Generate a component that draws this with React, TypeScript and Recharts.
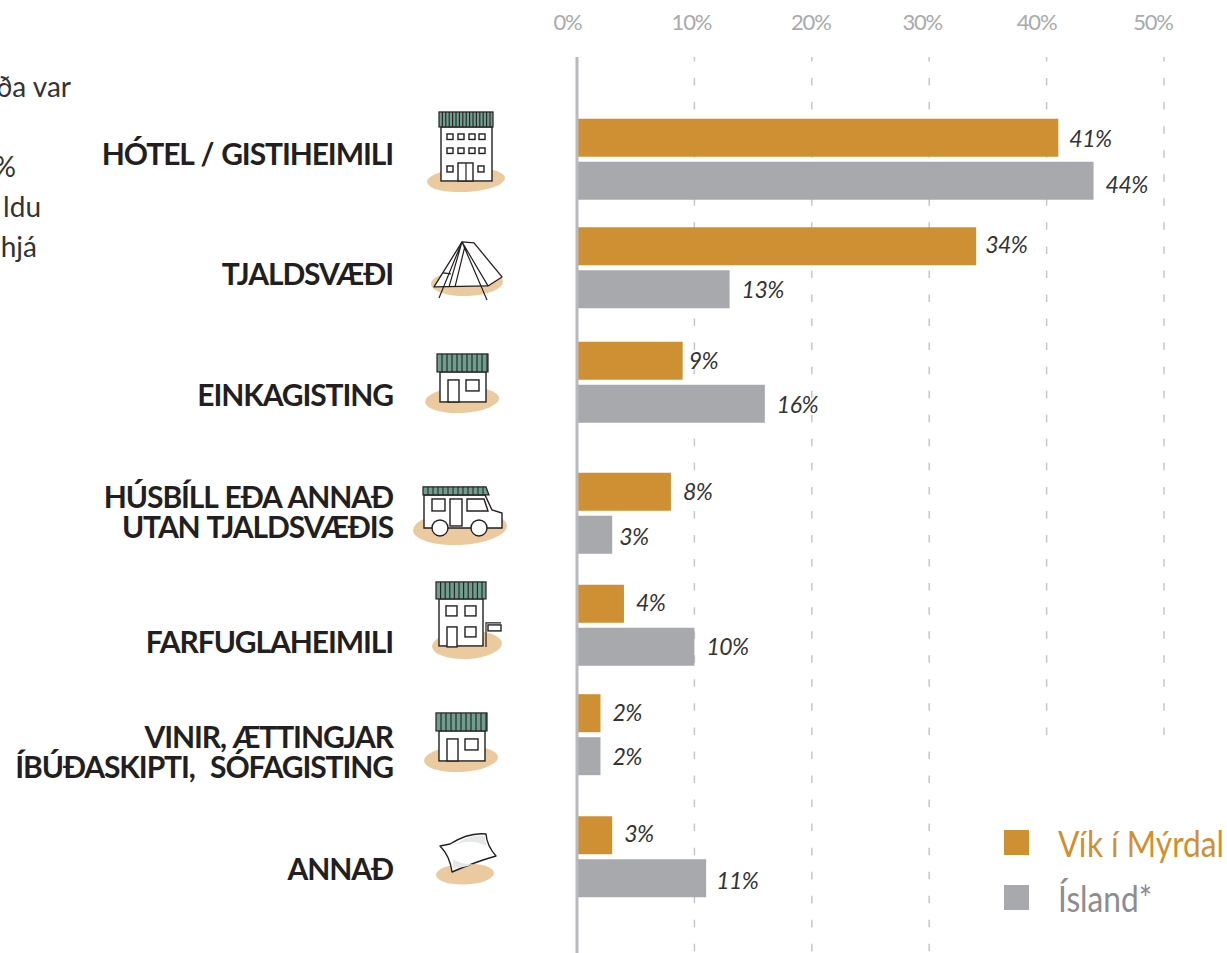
import { BarChart, Bar, XAxis, YAxis, LabelList, Legend, ReferenceLine } from 'recharts'

const categories = [
  ['HÓTEL / GISTIHEIMILI'],
  ['TJALDSVÆÐI'],
  ['EINKAGISTING'],
  ['HÚSBÍLL EÐA ANNAÐ', 'UTAN TJALDSVÆÐIS'],
  ['FARFUGLAHEIMILI'],
  ['VINIR, ÆTTINGJAR', 'ÍBÚÐASKIPTI,  SÓFAGISTING'],
  ['ANNAÐ'],
]
const vikValues = [41, 34, 9, 8, 4, 2, 3]
const islandValues = [44, 13, 16, 3, 10, 2, 11]
const xTicks = [0, 10, 20, 30, 40, 50]
const longGridTicks = [10, 20, 30]
const shortGridTicks = [40, 50]

// the rows are not evenly spaced in the original, unit = one average row
const rowSlots = [0, 0.933, 1.918, 3.045, 4.008, 4.95, 6]
const labelShift = [-5, 6.5, 13, -1, 17, 17.5, 12.5]
const iconShift = [21, 15.5, 18, 15, 20, 24.5, 17.5]
const xTickShift = [-9.5, -3, -1, -7, -10, -11]

// hand placed value labels in the original
const vikLabelDx = [-1, -3, -6, 0, 0, 0, 0]
const vikLabelDy = [0, -2, -1, -1, -2, -1, -2]
const islandLabelDx = [0, 0, 0, -5, 0, 0, -2]
const islandLabelDy = [3, 0, 0, 1, -1, 0, 2]

const ORANGE = '#cf9033'
const GREY = '#a8a9ad'
const GRID = '#c6c7c9'
const SAND = '#ecca9f'
const ROOF = '#6f9e8e'
const INK = '#231f20'
const BODY = 'Lato, "Open Sans", sans-serif'

const chartData = categories.map((c, i) => ({
  name: c.join(' '),
  slot: rowSlots[i],
  vik: vikValues[i],
  island: islandValues[i],
}))

function Roof({ x, y, w, h, step }: { x: number; y: number; w: number; h: number; step: number }) {
  const lines = []
  for (let lx = x + step; lx < x + w; lx += step) lines.push(lx)
  return (
    <g>
      <rect x={x} y={y} width={w} height={h} fill={ROOF} stroke={INK} strokeWidth={1.2} />
      {lines.map((lx) => (
        <line key={lx} x1={lx} x2={lx} y1={y} y2={y + h} stroke={INK} strokeWidth={1.1} />
      ))}
    </g>
  )
}

const boxStyle = { fill: '#fff', stroke: INK, strokeWidth: 1.4 }

function Hotel() {
  return (
    <g>
      <ellipse cx={0} cy={0} rx={39} ry={12} fill={SAND} transform="rotate(-3)" />
      <rect x={-25} y={-53} width={51} height={54} {...boxStyle} />
      <Roof x={-27} y={-68} w={54} h={15} step={3.4} />
      {[-19, -8, 3, 13].map((wx) =>
        [-46, -32].map((wy) => (
          <rect key={wx + '-' + wy} x={wx} y={wy} width={6} height={5.5} {...boxStyle} />
        )),
      )}
      <rect x={-19} y={-14} width={6} height={6} {...boxStyle} />
      <rect x={12} y={-14} width={6} height={6} {...boxStyle} />
      <rect x={-8} y={-17} width={15} height={18} {...boxStyle} />
      <line x1={0} x2={0} y1={-17} y2={1} stroke={INK} strokeWidth={1.2} />
    </g>
  )
}

function Tent() {
  return (
    <g>
      <ellipse cx={0} cy={0} rx={36} ry={13} fill={SAND} transform="rotate(-2)" />
      <path d="M-5,-41 L7,-40 L35,-6 L21,3 L-33,4 Z" fill="#fff" stroke={INK} strokeWidth={1.3} strokeLinejoin="round" />
      <path d="M-5,-41 L-28,15 M-5,-41 L20,17 M-5,-41 L21,3 M-5,-41 L-18,4 M-2,-37 L-12,4 M-24,-10 L-16,-9" fill="none" stroke={INK} strokeWidth={1.2} />
    </g>
  )
}

function SmallHouse() {
  return (
    <g>
      <ellipse cx={0} cy={0} rx={37} ry={13} fill={SAND} transform="rotate(-3)" />
      <rect x={-22} y={-28} width={46} height={30} {...boxStyle} />
      <Roof x={-25} y={-46} w={51} h={18} step={5} />
      <rect x={-14} y={-20} width={11} height={22} {...boxStyle} />
      <rect x={4} y={-20} width={13} height={11} {...boxStyle} />
    </g>
  )
}

function Camper() {
  return (
    <g>
      <ellipse cx={0} cy={0} rx={47} ry={17} fill={SAND} transform="rotate(-3)" />
      <path d="M-36,-33 L25,-33 L32,-18 L42,-15 L42,0 L-36,0 Z" {...boxStyle} />
      <path d="M-37,-41 L26,-41 L29,-33 L-37,-33 Z" fill={ROOF} stroke={INK} strokeWidth={1.2} />
      {[-32, -27, -22, -17, -12, -7, -2, 3, 8, 13, 18, 23].map((lx) => (
        <line key={lx} x1={lx} x2={lx} y1={-41} y2={-33} stroke={INK} strokeWidth={1} />
      ))}
      <rect x={-28} y={-29} width={13} height={12} {...boxStyle} />
      <rect x={-10} y={-29} width={12} height={27} {...boxStyle} />
      <path d="M7,-29 L24,-29 L28,-17 L7,-17 Z" {...boxStyle} />
      <circle cx={-20} cy={0} r={8} {...boxStyle} />
      <circle cx={19} cy={0} r={8} {...boxStyle} />
    </g>
  )
}

function Hostel() {
  return (
    <g>
      <ellipse cx={0} cy={0} rx={35} ry={14} fill={SAND} transform="rotate(-3)" />
      <rect x={-28} y={-46} width={44} height={47} {...boxStyle} />
      <Roof x={-31} y={-63} w={50} h={17} step={4.6} />
      <rect x={-21} y={-39} width={11} height={10} {...boxStyle} />
      <rect x={-2} y={-39} width={11} height={10} {...boxStyle} />
      <rect x={-20} y={-18} width={10} height={20} {...boxStyle} />
      <rect x={-2} y={-18} width={11} height={10} {...boxStyle} />
      <path d="M19,2 L19,-22 L34,-22" fill="none" stroke={INK} strokeWidth={1.2} />
      <rect x={21} y={-20} width={13} height={6} {...boxStyle} />
    </g>
  )
}

function Pillow() {
  return (
    <g>
      <ellipse cx={0} cy={0} rx={29} ry={10.5} fill={SAND} transform="rotate(-2)" />
      <path d="M-25,-28 L-15,-30 Q4,-42 21,-40 Q22,-28 31,-18 Q10,-12 -13,-2 Q-15,-18 -25,-28 Z" fill="#fff" stroke={INK} strokeWidth={1.4} strokeLinejoin="round" />
      <path d="M-11,-29 Q4,-40 20,-38 L21,-28 Q6,-36 -11,-29 Z M-12,-6 Q-2,-6 9,-10 Q-4,-9 -12,-15 Z" fill="#e6e7e8" />
    </g>
  )
}

const icons = [Hotel, Tent, SmallHouse, Camper, Hostel, SmallHouse, Pillow]
const iconX = [466, 467, 462, 460, 467, 461, 465]

function RowTick({ y, payload }: any) {
  const i = rowSlots.indexOf(payload.value)
  if (i < 0) return null
  const lines = categories[i]
  const Icon = icons[i]
  const textY = y + labelShift[i]
  return (
    <g>
      <g transform={`translate(${iconX[i]},${y + iconShift[i]})`}>
        <Icon />
      </g>
      <text
        x={393}
        y={textY}
        textAnchor="end"
        fontFamily={BODY}
        fontWeight={700}
        fontSize={30}
        letterSpacing={-1.1}
        wordSpacing={1.5}
        fill={INK}
        xmlSpace="preserve"
      >
        {lines.map((line, n) => (
          <tspan key={n} x={393} dy={n === 0 ? (lines.length === 1 ? 11 : -4) : 30.5}>
            {line}
          </tspan>
        ))}
      </text>
    </g>
  )
}

function PercentTick({ x, y, payload, index }: any) {
  return (
    <text
      x={x + xTickShift[index]}
      y={y}
      textAnchor="middle"
      fontFamily={BODY}
      fontSize={22}
      letterSpacing={-1.2}
      fill="#a9aaac"
    >
      {payload.value}%
    </text>
  )
}

function ValueLabel({ x, y, width, height, value, index, dxs, dys }: any) {
  return (
    <text
      x={x + width + 12 + dxs[index]}
      y={y + height / 2 + dys[index]}
      dominantBaseline="central"
      fontFamily={BODY}
      fontStyle="italic"
      fontSize={23}
      letterSpacing={-0.5}
      fill="#333"
    >
      {value}%
    </text>
  )
}

function KeyBox({ payload }: any) {
  return (
    <div>
      {(payload || []).map((entry: any) => (
        <div key={entry.value} style={{ display: 'flex', alignItems: 'center', height: 55 }}>
          <span style={{ flex: 'none', width: 25, height: 25, background: entry.color, marginRight: 29 }} />
          <span
            style={{
              fontFamily: BODY,
              fontSize: 36,
              whiteSpace: 'nowrap',
              transform: 'scaleX(0.88)',
              transformOrigin: 'left center',
              color: entry.dataKey === 'vik' ? ORANGE : '#8c8d8f',
            }}
          >
            {entry.value}
          </span>
        </div>
      ))}
    </div>
  )
}

const gridDash = { stroke: GRID, strokeWidth: 1.5, strokeDasharray: '7.5 16.55', strokeDashoffset: 3 }

const slotTop = -0.877
const slotBottom = 6.83
const shortGridEnd = 4.96

const introStyle = { fontFamily: BODY, fontSize: 28, fill: '#333' }

export default function App() {
  return (
    <div style={{ position: 'absolute', left: 0, top: 0, width: 1227, height: 953, overflow: 'hidden' }}>
      <BarChart
        width={1227}
        height={953}
        data={chartData}
        layout="vertical"
        margin={{ top: 0, right: 63, bottom: 0, left: 0 }}
        barSize={38}
        barGap={5}
      >
        <text x={71} y={97} textAnchor="end" {...introStyle}>ða var</text>
        <text x={16} y={177} textAnchor="end" {...introStyle}>%</text>
        <text x={41} y={217} textAnchor="end" {...introStyle}>ldu</text>
        <text x={37} y={257} textAnchor="end" {...introStyle}>hjá</text>
        {longGridTicks.map((t) => (
          <ReferenceLine
            key={t}
            zIndex={0}
            segment={[{ x: t, y: slotTop }, { x: t, y: slotBottom }]}
            {...gridDash}
          />
        ))}
        {shortGridTicks.map((t) => (
          <ReferenceLine
            key={t}
            zIndex={0}
            segment={[{ x: t, y: slotTop }, { x: t, y: shortGridEnd }]}
            {...gridDash}
          />
        ))}
        <XAxis
          type="number"
          orientation="top"
          domain={[0, 50]}
          ticks={xTicks}
          height={57}
          axisLine={false}
          tickLine={false}
          tickMargin={0}
          tick={(props: any) => <PercentTick {...props} y={30} />}
        />
        <YAxis
          type="number"
          dataKey="slot"
          domain={[slotTop, slotBottom]}
          ticks={rowSlots}
          interval={0}
          width={577}
          tickLine={false}
          axisLine={{ stroke: '#b9babd', strokeWidth: 3 }}
          tick={(props: any) => <RowTick {...props} />}
        />
        <Legend
          layout="vertical"
          align="center"
          verticalAlign="middle"
          content={(props: any) => <KeyBox {...props} />}
          wrapperStyle={{ left: 1004, top: 815, width: 223 }}
        />
        <Bar dataKey="vik" name="Vík í Mýrdal" fill={ORANGE} isAnimationActive={false}>
          <LabelList
            dataKey="vik"
            content={(props: any) => <ValueLabel {...props} dxs={vikLabelDx} dys={vikLabelDy} />}
          />
        </Bar>
        <Bar dataKey="island" name="Ísland*" fill={GREY} isAnimationActive={false}>
          <LabelList
            dataKey="island"
            content={(props: any) => <ValueLabel {...props} dxs={islandLabelDx} dys={islandLabelDy} />}
          />
        </Bar>
      </BarChart>
    </div>
  )
}
